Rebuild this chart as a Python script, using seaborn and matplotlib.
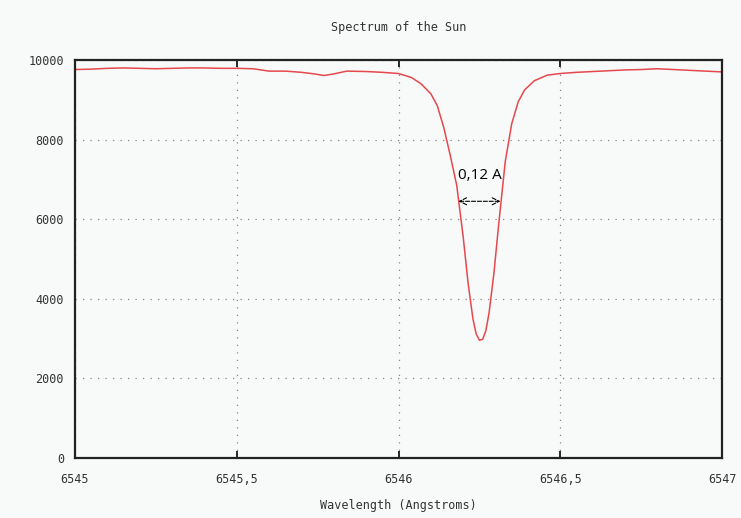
import pandas as pd
import matplotlib.pyplot as plt
import seaborn as sns

# Solar spectrum around the H-alpha line
wavelength = [6545.00, 6545.05, 6545.10, 6545.15, 6545.20, 6545.25, 6545.30, 6545.35,
              6545.40, 6545.45, 6545.50, 6545.55, 6545.60, 6545.65, 6545.70, 6545.74,
              6545.77, 6545.80, 6545.84, 6545.90, 6545.95, 6546.00, 6546.04, 6546.07,
              6546.10, 6546.12, 6546.14, 6546.16, 6546.18, 6546.20, 6546.215, 6546.23,
              6546.24, 6546.25, 6546.26, 6546.27, 6546.28, 6546.295, 6546.31, 6546.33,
              6546.35, 6546.37, 6546.39, 6546.42, 6546.46, 6546.50, 6546.55, 6546.60,
              6546.65, 6546.70, 6546.75, 6546.80, 6546.85, 6546.90, 6546.95, 6547.00]
intensity = [9760, 9770, 9790, 9800, 9790, 9780, 9790, 9800,
             9800, 9790, 9790, 9780, 9720, 9720, 9690, 9650,
             9610, 9650, 9720, 9710, 9690, 9660, 9560, 9400,
             9150, 8850, 8300, 7600, 6850, 5550, 4400, 3500,
             3120, 2960, 2980, 3200, 3650, 4650, 5900, 7450,
             8400, 8950, 9250, 9480, 9620, 9660, 9690, 9710,
             9730, 9750, 9760, 9780, 9760, 9740, 9720, 9700]

x_ticks = [6545, 6545.5, 6546, 6546.5, 6547]
x_labels = ['6545', '6545,5', '6546', '6546,5', '6547']
y_ticks = [0, 2000, 4000, 6000, 8000, 10000]

df = pd.DataFrame({'wavelength': wavelength, 'intensity': intensity})

sns.set_style('white')
bg = '#f8faf9'
fig = plt.figure(figsize=(7.41, 5.18), dpi=100, facecolor=bg)
ax = fig.add_axes([0.1012, 0.1158, 0.8732, 0.7684], facecolor=bg)

sns.lineplot(x='wavelength', y='intensity', data=df, ax=ax,
             color='#e5484d', linewidth=1.1)

ax.set_xlim(6545, 6547)
ax.set_ylim(0, 10000)
ax.set_xticks(x_ticks)
ax.set_xticklabels(x_labels)
ax.set_yticks(y_ticks)
ax.grid(True, linestyle=(0, (1, 5)), color='#888888', linewidth=0.9)
for s in ax.spines.values():
    s.set_color('#222222')
    s.set_linewidth(1.6)
ax.tick_params(axis='x', direction='in', top=True, bottom=True, length=5,
               width=1.4, pad=11, labelsize=8.5, labelcolor='#333333')
ax.tick_params(axis='y', direction='in', left=False, length=0, pad=8,
               labelsize=8.5, labelcolor='#333333')
for lab in ax.get_xticklabels() + ax.get_yticklabels():
    lab.set_family('DejaVu Sans Mono')

ax.set_title('Spectrum of the Sun', family='DejaVu Sans Mono', fontsize=8.5,
             color='#333333', pad=21)
ax.set_xlabel('Wavelength (Angstroms)', family='DejaVu Sans Mono', fontsize=8.5,
              color='#333333', labelpad=9)
ax.set_ylabel('')

# FWHM annotation
ax.annotate('', xy=(6546.185, 6450), xytext=(6546.315, 6450),
            arrowprops=dict(arrowstyle='<->,head_length=0.5,head_width=0.25',
                            linestyle='--', color='black',
                            linewidth=0.8, shrinkA=0, shrinkB=0))
ax.text(6546.25, 7100, '0,12 A', ha='center', va='center', fontsize=11,
        family='Open Sans', color='black')

fig.savefig('out.png', dpi=100, facecolor=bg)
